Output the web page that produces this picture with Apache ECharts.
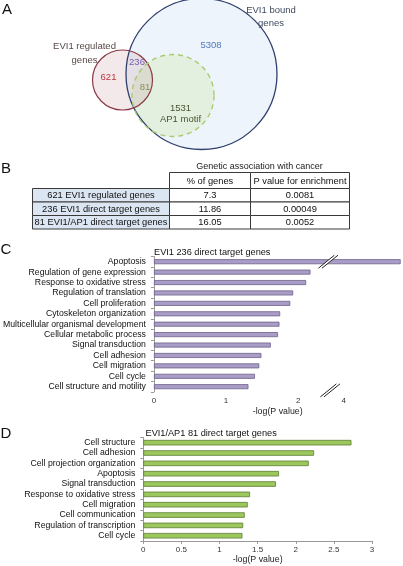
<!DOCTYPE html>
<html>
<head>
<meta charset="utf-8">
<script src="https://cdn.jsdelivr.net/npm/echarts@6/dist/echarts.min.js"></script>
<style>
html,body{margin:0;padding:0;background:#fff;}
#main{width:403px;height:566px;}
</style>
</head>
<body>
<div id="main"></div>
<script>
// ---------- DATA ----------
const panelLetters = ['A', 'B', 'C', 'D'];

// Venn (panel A)
const vennSetNames = ['EVI1 regulated\ngenes', 'EVI1 bound\ngenes', 'AP1 motif'];
const vennRegionCounts = [621, 236, 81, 5308, 1531]; // regulated only, regulated∩bound, regulated∩bound∩AP1, bound, AP1 motif

// Table (panel B)
const tableTitle = 'Genetic association with cancer';
const tableColumns = ['% of genes', 'P value for enrichment'];
const tableRows = ['621 EVI1 regulated genes', '236 EVI1 direct target genes', '81 EVI1/AP1 direct target genes'];
const pctGenes = ['7.3', '11.86', '16.05'];
const pValues = ['0.0081', '0.00049', '0.0052'];

// Panel C
const cTitle = 'EVI1 236 direct target genes';
const cCategories = ['Apoptosis', 'Regulation of gene expression', 'Response to oxidative stress',
  'Regulation of translation', 'Cell proliferation', 'Cytoskeleton organization',
  'Multicellular organismal development', 'Cellular metabolic process', 'Signal transduction',
  'Cell adhesion', 'Cell migration', 'Cell cycle', 'Cell structure and motility'];
const cValues = [4.79, 2.17, 2.11, 1.93, 1.89, 1.75, 1.74, 1.72, 1.62, 1.49, 1.46, 1.40, 1.31];
const cTickLabels = [0, 1, 2, 4];

// Panel D
const dTitle = 'EVI1/AP1 81 direct target genes';
const dCategories = ['Cell structure', 'Cell adhesion', 'Cell projection organization', 'Apoptosis',
  'Signal transduction', 'Response to oxidative stress', 'Cell migration', 'Cell communication',
  'Regulation of transcription', 'Cell cycle'];
const dValues = [2.73, 2.24, 2.17, 1.78, 1.74, 1.40, 1.37, 1.33, 1.31, 1.30];
const dTickLabels = [0, 0.5, 1, 1.5, 2, 2.5, 3];

const axisName = '-log(P value)';

// ---------- LAYOUT / STYLE ----------
const SANS = 'Liberation Sans, Arial, sans-serif';
const TABLEFONT = '9.3px Liberation Sans, Arial, sans-serif';
const chart = echarts.init(document.getElementById('main'), null, {renderer: 'canvas'});

let gid = 0;
function txt(x, y, text, opts) {
  opts = opts || {};
  return {
    type: 'text', id: 'g' + (gid++), x: x, y: y, z: opts.z || 10,
    style: {
      text: text, fill: opts.fill || '#000',
      font: opts.font || ('9.5px ' + SANS),
      textAlign: opts.align || 'center', textVerticalAlign: 'middle',
      lineHeight: opts.lineHeight || 12
    }
  };
}
function circ(cx, cy, r, fill, stroke, lw, dash, z) {
  return {
    type: 'circle', id: 'g' + (gid++), z: z,
    shape: {cx: cx, cy: cy, r: r},
    style: {fill: fill, stroke: stroke, lineWidth: lw || 0, lineDash: dash || null}
  };
}
function rect(x, y, w, h, fill, stroke) {
  return {
    type: 'rect', id: 'g' + (gid++), z: 5,
    shape: {x: x, y: y, width: w, height: h},
    style: {fill: fill, stroke: stroke, lineWidth: 1}
  };
}

const g = [];
// panel letters
const letterPos = [[7, 10], [6, 169], [6, 250], [6, 434]];
panelLetters.forEach((l, i) => g.push(txt(letterPos[i][0], letterPos[i][1], l, {font: '15px ' + SANS, fill: '#111'})));

// Venn circles
const bigC = [201.5, 74, 75.5], redC = [122.5, 80, 30], grnC = [173, 95.5, 41];
g.push(circ(bigC[0], bigC[1], bigC[2], '#EEF4FB', null, 0, null, 1));
g.push(circ(grnC[0], grnC[1], grnC[2], 'rgba(205,232,175,0.35)', null, 0, null, 2));
g.push(circ(redC[0], redC[1], redC[2], 'rgba(190,125,140,0.18)', null, 0, null, 3));
g.push(circ(bigC[0], bigC[1], bigC[2], 'none', '#2F3F6E', 1.3, null, 4));
g.push(circ(redC[0], redC[1], redC[2], 'none', '#8B3B47', 1.2, null, 4));
g.push(circ(grnC[0], grnC[1], grnC[2], 'none', '#A8CC6E', 1.4, [5, 4], 4));

// Venn labels
g.push(txt(84.5, 53.5, vennSetNames[0], {fill: '#5A4848', lineHeight: 13.5}));
g.push(txt(271, 17, vennSetNames[1], {fill: '#3F4A5E', lineHeight: 12.5}));
g.push(txt(108.5, 77, String(vennRegionCounts[0]), {fill: '#B8383E'}));
g.push(txt(137, 62.5, String(vennRegionCounts[1]), {fill: '#7A5AAE'}));
g.push(txt(145, 87, String(vennRegionCounts[2]), {fill: '#8C8C60'}));
g.push(txt(211, 45, String(vennRegionCounts[3]), {fill: '#4F78BE'}));
g.push(txt(180.5, 114, vennRegionCounts[4] + '\n' + vennSetNames[2], {fill: '#4B5530', lineHeight: 11.5}));

// Table
const colX = [32.5, 169.5, 250.5, 349.5];
const rowY = [172.5, 188.5, 202, 215.5, 229];
g.push(txt((colX[1] + colX[3]) / 2, 166.5, tableTitle, {font: '9px ' + SANS, fill: '#222'}));
tableColumns.forEach((c, i) => {
  g.push(rect(colX[i + 1], rowY[0], colX[i + 2] - colX[i + 1], rowY[1] - rowY[0], '#fff', '#3A3A3A'));
  g.push(txt((colX[i + 1] + colX[i + 2]) / 2, (rowY[0] + rowY[1]) / 2 + 0.5, c, {font: TABLEFONT, fill: '#111'}));
});
tableRows.forEach((r, j) => {
  const y0 = rowY[j + 1], y1 = rowY[j + 2], cy = (y0 + y1) / 2 + 0.5;
  g.push(rect(colX[0], y0, colX[1] - colX[0], y1 - y0, '#DCE6F2', '#3A3A3A'));
  g.push(txt((colX[0] + colX[1]) / 2, cy, r, {font: TABLEFONT, fill: '#111'}));
  g.push(rect(colX[1], y0, colX[2] - colX[1], y1 - y0, '#fff', '#3A3A3A'));
  g.push(txt((colX[1] + colX[2]) / 2, cy, pctGenes[j], {font: TABLEFONT, fill: '#111'}));
  g.push(rect(colX[2], y0, colX[3] - colX[2], y1 - y0, '#fff', '#3A3A3A'));
  g.push(txt((colX[2] + colX[3]) / 2, cy, pValues[j], {font: TABLEFONT, fill: '#111'}));
});

// chart titles
g.push(txt(154, 252.5, cTitle, {font: '9.2px ' + SANS, align: 'left', fill: '#111'}));
g.push(txt(145.5, 433, dTitle, {font: '9.2px ' + SANS, align: 'left', fill: '#111'}));

const catLabel = {fontSize: 8.7, fontFamily: SANS, color: '#111', margin: 8, interval: 0};
const valLabel = {fontSize: 8, fontFamily: SANS, color: '#333', margin: 5};

const option = {
  animation: false,
  backgroundColor: '#fff',
  grid: [
    {left: 151, right: 1.6, top: 256.5, bottom: 174.1, containLabel: false},
    {left: 143.3, right: 31, top: 437.5, bottom: 25.1, containLabel: false}
  ],
  xAxis: [
    {
      gridIndex: 0, type: 'value', min: 0, max: 4.8, interval: 1,
      breaks: [{start: 2.4, end: 3.8, gap: 0.03}],
      breakArea: {show: false, itemStyle: {opacity: 0, borderWidth: 0}},
      axisLine: {show: false}, axisTick: {show: false}, splitLine: {show: false},
      axisLabel: Object.assign({customValues: cTickLabels, formatter: v => String(v)}, valLabel),
      name: axisName, nameLocation: 'middle', nameGap: 15,
      nameTextStyle: {fontSize: 8.8, fontFamily: SANS, color: '#222'}
    },
    {
      gridIndex: 1, type: 'value', min: 0, max: 3, interval: 0.5,
      axisLine: {show: true, lineStyle: {color: '#999', width: 1}},
      axisTick: {show: true, length: 3, lineStyle: {color: '#999'}},
      splitLine: {show: false},
      axisLabel: Object.assign({customValues: dTickLabels, formatter: v => String(v)}, valLabel),
      name: axisName, nameLocation: 'middle', nameGap: 14.5,
      nameTextStyle: {fontSize: 8.8, fontFamily: SANS, color: '#222'}
    }
  ],
  yAxis: [
    {
      gridIndex: 0, type: 'category', data: cCategories, inverse: true,
      axisLine: {show: true, lineStyle: {color: '#999', width: 1}},
      axisTick: {show: true, length: 3, interval: 0, lineStyle: {color: '#999'}},
      axisLabel: catLabel
    },
    {
      gridIndex: 1, type: 'category', data: dCategories, inverse: true,
      axisLine: {show: true, lineStyle: {color: '#999', width: 1}},
      axisTick: {show: true, length: 3, interval: 0, lineStyle: {color: '#999'}},
      axisLabel: catLabel
    }
  ],
  series: [
    {
      type: 'bar', xAxisIndex: 0, yAxisIndex: 0, data: cValues, barWidth: 5,
      itemStyle: {color: '#A99DC7', borderColor: '#6D6289', borderWidth: 0.8}
    },
    {
      type: 'bar', xAxisIndex: 1, yAxisIndex: 1, data: dValues, barWidth: 5.5,
      itemStyle: {color: '#9CC75C', borderColor: '#5D7E36', borderWidth: 0.8}
    }
  ],
  graphic: {elements: g}
};
chart.setOption(option);

// break marks (//) placed via axis scale
const xb0 = chart.convertToPixel({xAxisIndex: 0}, 2.4);
const xb1 = chart.convertToPixel({xAxisIndex: 0}, 3.8);
const xm = (xb0 + xb1) / 2;
const yBar = chart.convertToPixel({yAxisIndex: 0}, cCategories[0]);
const yAxisBottom = 566 - 174.1;
function breakMark(cx, cy, idp) {
  const hw = 8, hh = 6.5, sep = 1.8;
  return [
    {type: 'polygon', id: idp + 'p', z: 20,
      shape: {points: [[cx - hw - sep, cy + hh], [cx + hw - sep, cy - hh], [cx + hw + sep, cy - hh], [cx - hw + sep, cy + hh]]},
      style: {fill: '#fff'}},
    {type: 'line', id: idp + 'a', z: 21, shape: {x1: cx - hw - sep, y1: cy + hh, x2: cx + hw - sep, y2: cy - hh}, style: {stroke: '#222', lineWidth: 1}},
    {type: 'line', id: idp + 'b', z: 21, shape: {x1: cx - hw + sep, y1: cy + hh, x2: cx + hw + sep, y2: cy - hh}, style: {stroke: '#222', lineWidth: 1}}
  ];
}
const marks = breakMark(xm, yBar, 'bm1').concat(breakMark(xm + 2, yAxisBottom - 1.5, 'bm2'));
chart.setOption({graphic: {elements: g.concat(marks)}});
</script>
</body>
</html>
